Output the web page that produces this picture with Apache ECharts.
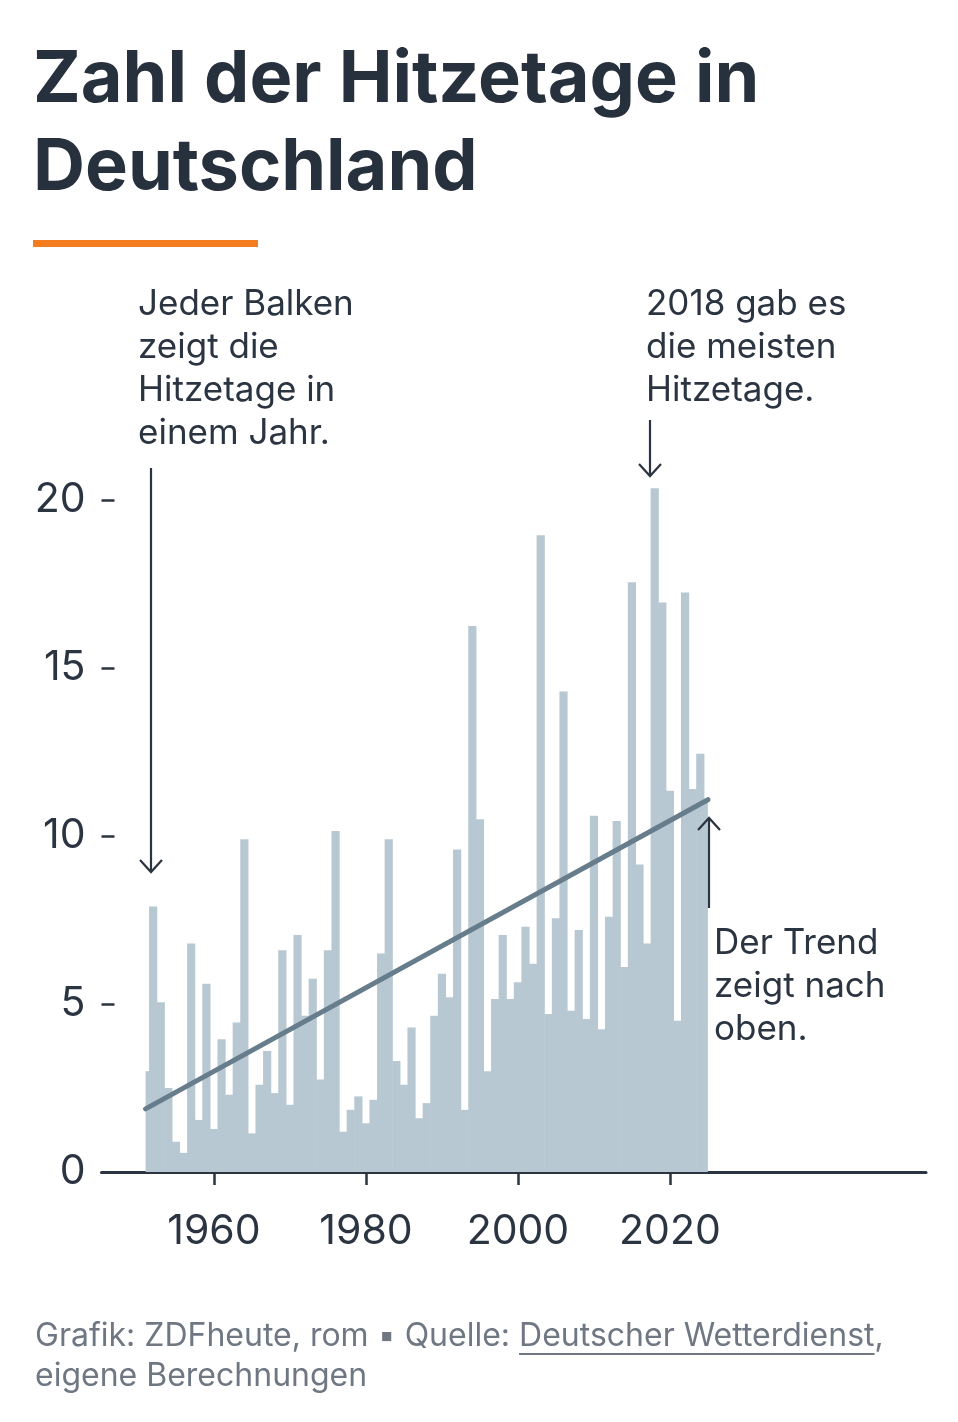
<!DOCTYPE html>
<html>
<head>
<meta charset="utf-8">
<script src="https://cdn.jsdelivr.net/npm/echarts@6/dist/echarts.min.js"></script>
<style>
html,body{margin:0;padding:0;background:#fff;}
#c{width:958px;height:1422px;}
</style>
</head>
<body>
<div id="c"></div>
<script>
// ---- data ----
const years = [1951,1952,1953,1954,1955,1956,1957,1958,1959,1960,1961,1962,1963,1964,1965,1966,1967,1968,1969,1970,1971,1972,1973,1974,1975,1976,1977,1978,1979,1980,1981,1982,1983,1984,1985,1986,1987,1988,1989,1990,1991,1992,1993,1994,1995,1996,1997,1998,1999,2000,2001,2002,2003,2004,2005,2006,2007,2008,2009,2010,2011,2012,2013,2014,2015,2016,2017,2018,2019,2020,2021,2022,2023,2024,2025];
const hotDays = [3.0,7.9,5.05,2.5,0.9,0.57,6.8,1.55,5.6,1.28,3.95,2.3,4.45,9.9,1.15,2.6,3.6,2.35,6.6,2.0,7.05,4.65,5.75,2.75,6.6,10.15,1.2,1.85,2.25,1.45,2.15,6.5,9.9,3.3,2.6,4.3,1.6,2.05,4.65,5.9,5.2,9.6,1.85,16.25,10.5,3.0,5.15,7.05,5.15,5.65,7.3,6.2,18.95,4.7,7.55,14.3,4.8,7.2,4.55,10.6,4.25,7.6,10.45,6.1,17.55,9.15,6.8,20.35,16.95,11.35,4.5,17.25,11.4,12.45,11.0];
const trendYears = [1951, 2025];
const trendValues = [1.88, 11.08];
const xTickLabels = [1960, 1980, 2000, 2020];
const yTickLabels = [0, 5, 10, 15, 20];

const TXT = '#2b3441';
const BAR = '#b8c8d3';
const FONT = 'Inter, "Noto Sans", sans-serif';

const chart = echarts.init(document.getElementById('c'));

const barData = years.map((y, i) => [y, hotDays[i]]);
const trendData = trendYears.map((y, i) => [y, trendValues[i]]);
const firstYear = years[0], lastYear = years[years.length - 1];

// footer underline measurement
const FOOT_SIZE = 32;
const mc = document.createElement('canvas').getContext('2d');
mc.font = FOOT_SIZE + 'px Inter';
const footPre = 'Grafik: ZDFheute, rom \u25AA Quelle: ';
const footLink = 'Deutscher Wetterdienst';
const preW = mc.measureText(footPre).width;
const linkW = mc.measureText(footLink).width;

const arrowStyle = {stroke: TXT, lineWidth: 2.2, fill: null};

function renderBar(params, api) {
  const x = api.value(0), v = api.value(1);
  const p0 = api.coord([x - 0.5, v]);
  const p1 = api.coord([x + 0.5, 0]);
  const c0 = api.coord([firstYear, 0])[0];
  const c1 = api.coord([lastYear, 0])[0];
  const cs = params.coordSys;
  const rect = echarts.graphic.clipRectByRect(
    {x: p0[0] - 0.3, y: p0[1], width: p1[0] - p0[0] + 0.6, height: p1[1] - p0[1]},
    {x: c0, y: cs.y, width: c1 - c0, height: cs.height}
  );
  return rect && {type: 'rect', shape: rect, style: {fill: BAR}};
}

chart.setOption({
  animation: false,
  grid: {left: 101.5, right: 32, top: 466.4, bottom: 250},
  xAxis: {type: 'value', min: 1945.2, max: 2053.7,
     axisLine: {show: true, lineStyle: {color: TXT, width: 3}},
     axisTick: {show: true, customValues: xTickLabels, length: 13, lineStyle: {color: TXT, width: 2.5}},
     axisLabel: {show: true, customValues: xTickLabels, margin: 39, color: TXT, fontSize: 41, fontFamily: FONT, formatter: v => String(v)},
     splitLine: {show: false}},
  yAxis: {type: 'value', min: 0, max: 21,
     axisLine: {show: false},
     axisTick: {show: true, inside: true, customValues: [5, 10, 15, 20], length: 13, lineStyle: {color: TXT, width: 2.5}},
     axisLabel: {show: true, customValues: yTickLabels, margin: 16, color: TXT, fontSize: 41, fontFamily: FONT},
     splitLine: {show: false}},
  series: [
    {type: 'custom', data: barData, renderItem: renderBar, encode: {x: 0, y: 1}, silent: true, z: 2},
    {type: 'line', data: trendData, symbol: 'none', clip: false,
     lineStyle: {color: '#677d8c', width: 5, cap: 'round'}, silent: true, z: 5}
  ],
  graphic: [
    {type: 'text', left: 33, top: 36, z: 10, style: {text: 'Zahl der Hitzetage in\nDeutschland', font: 'bold 72px ' + FONT, fill: '#27303d', lineHeight: 88}},
    {type: 'rect', z: 10, shape: {x: 33, y: 240, width: 225, height: 7}, style: {fill: '#f47d20'}},
    {type: 'text', z: 10, x: 138, y: 282.5, style: {text: 'Jeder Balken\nzeigt die\nHitzetage in\neinem Jahr.', font: '35px ' + FONT, fill: TXT, lineHeight: 43, verticalAlign: 'top'}},
    {type: 'text', z: 10, x: 646, y: 282.5, style: {text: '2018 gab es\ndie meisten\nHitzetage.', font: '35px ' + FONT, fill: TXT, lineHeight: 43, verticalAlign: 'top'}},
    {type: 'text', z: 10, x: 714, y: 921.5, style: {text: 'Der Trend\nzeigt nach\noben.', font: '35px ' + FONT, fill: TXT, lineHeight: 43, verticalAlign: 'top'}},
    {type: 'polyline', z: 10, shape: {points: [[151, 468], [151, 871]]}, style: arrowStyle},
    {type: 'polyline', z: 10, shape: {points: [[140, 860], [151, 872], [162, 860]]}, style: arrowStyle},
    {type: 'polyline', z: 10, shape: {points: [[650, 420], [650, 476]]}, style: arrowStyle},
    {type: 'polyline', z: 10, shape: {points: [[639, 464], [650, 476], [661, 464]]}, style: arrowStyle},
    {type: 'polyline', z: 10, shape: {points: [[709, 908], [709, 818]]}, style: arrowStyle},
    {type: 'polyline', z: 10, shape: {points: [[698, 830], [709, 818], [720, 830]]}, style: arrowStyle},
    {type: 'text', z: 10, x: 35, y: 1316, style: {text: footPre + footLink + ',\neigene Berechnungen', font: FOOT_SIZE + 'px ' + FONT, fill: '#6e7782', lineHeight: 40, verticalAlign: 'top'}},
    {type: 'rect', z: 10, shape: {x: 35 + preW, y: 1353, width: linkW, height: 2}, style: {fill: '#6e7782'}}
  ]
});
</script>
</body>
</html>
